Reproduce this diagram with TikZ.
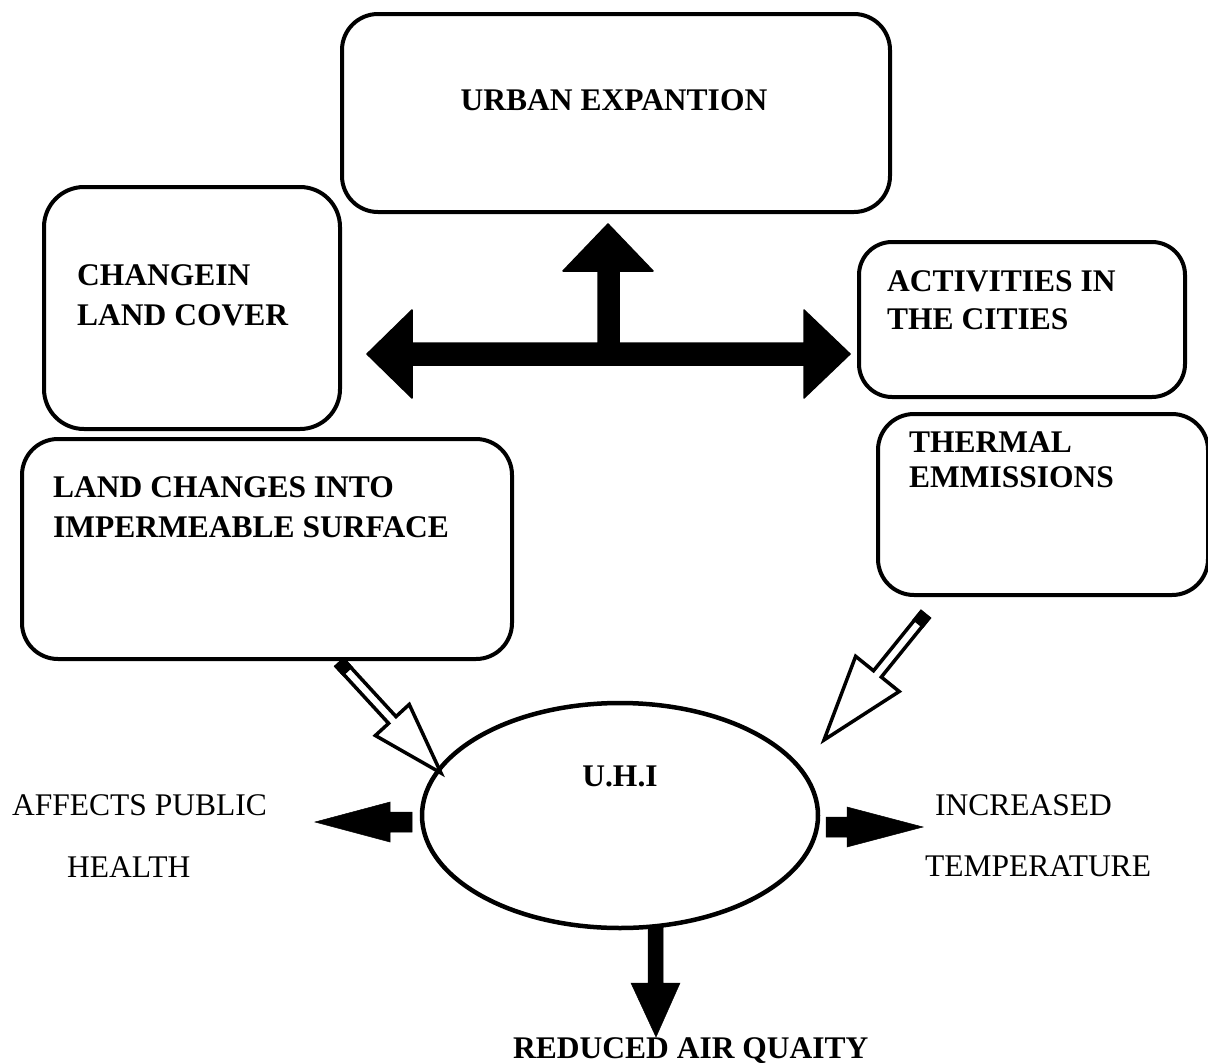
\documentclass[tikz,border=0pt]{standalone}
\usepackage{fontspec}
\setmainfont{Liberation Serif}
\usetikzlibrary{calc,shapes.geometric}
\begin{document}
\begin{tikzpicture}[x=1pt,y=-1pt,
  box/.style={draw, line width=4pt, rounded corners=36pt, inner sep=0pt, anchor=north west},
  btxt/.style={anchor=base west, inner sep=0pt, font=\fontsize{31.5}{40}\selectfont\bfseries},
  rtxt/.style={anchor=base west, inner sep=0pt, font=\fontsize{31.5}{40}\selectfont},
  blockarrow/.style={fill=black, draw=black, line width=1.5pt, line join=round},
  hollowarrow/.style={draw=black, fill=white, line width=3.5pt, line join=miter},
  tailfill/.style={draw=black, fill=black, line width=3.5pt}]
\fill[white] (0,0) rectangle (1208,1063);
\useasboundingbox (0,0) rectangle (1208,1063);

% boxes
\node[box, minimum width=548pt, minimum height=198pt] (urban) at (340,12) {};
\node[box, minimum width=296pt, minimum height=242pt, rounded corners=40pt] (cover) at (42,185) {};
\node[box, minimum width=326pt, minimum height=155pt, rounded corners=33pt] (act) at (857,240) {};
\node[box, minimum width=330pt, minimum height=181pt] (therm) at (876,412) {};
\node[box, minimum width=490pt, minimum height=220pt] (land) at (20,437) {};
\node[draw, line width=4.5pt, ellipse, minimum width=396pt, minimum height=225pt, inner sep=0pt] (uhi) at (620,815.5) {};

% box texts
\node[btxt, anchor=base] (turban) at (614,110) {URBAN EXPANTION};
\node[btxt] (tcover1) at (77,285) {CHANGEIN};
\node[btxt] (tcover2) at (77,325) {LAND COVER};
\node[btxt] (tact1) at (887,291) {ACTIVITIES IN};
\node[btxt] (tact2) at (887,329) {THE CITIES};
\node[btxt] (ttherm1) at (909,452) {THERMAL};
\node[btxt] (ttherm2) at (909,487) {EMMISSIONS};
\node[btxt] (tland1) at (53,497) {LAND CHANGES INTO};
\node[btxt] (tland2) at (53,537) {IMPERMEABLE SURFACE};
\node[btxt, anchor=base] (tuhi) at (620,786) {U.H.I};

% outcome texts
\node[rtxt] (health1) at (12,815) {AFFECTS PUBLIC};
\node[rtxt] (health2) at (67,877) {HEALTH};
\node[rtxt] (temp1) at (935,815) {INCREASED};
\node[rtxt] (temp2) at (925,876) {TEMPERATURE};
\node[btxt] (air) at (513,1058) {REDUCED AIR QUAITY};

% T-shaped block arrow
\coordinate (tl) at (367,354);
\coordinate (tr) at (850,354);
\coordinate (tu) at (608,224);
\filldraw[blockarrow] (tl) -- (412,310) -- (412,343) -- (598,343) -- (598,271) -- (563,271)
  -- (tu) -- (653,271) -- (619,271) -- (619,343) -- (804,343) -- (804,310) -- (tr)
  -- (804,398) -- (804,365) -- (412,365) -- (412,398) -- cycle;

% hollow arrows into U.H.I
\coordinate (T1) at (340,663);
\coordinate (P1) at (441,773);
\coordinate (B1) at ($(P1)!72pt!(T1)$);
\coordinate (E1) at ($(T1)!10pt!(P1)$);
\filldraw[hollowarrow] ($(T1)!5pt!90:(P1)$) -- ($(B1)!5pt!90:(P1)$) -- ($(B1)!23pt!90:(P1)$)
  -- (P1) -- ($(B1)!23pt!-90:(P1)$) -- ($(B1)!5pt!-90:(P1)$) -- ($(T1)!5pt!-90:(P1)$) -- cycle;
\filldraw[tailfill] ($(T1)!5pt!90:(P1)$) -- ($(E1)!5pt!90:(P1)$) -- ($(E1)!5pt!-90:(P1)$) -- ($(T1)!5pt!-90:(P1)$) -- cycle;

\coordinate (T2) at (925,615);
\coordinate (P2) at (824,740);
\coordinate (B2) at ($(P2)!85pt!(T2)$);
\coordinate (E2) at ($(T2)!10pt!(P2)$);
\filldraw[hollowarrow] ($(T2)!5pt!90:(P2)$) -- ($(B2)!5pt!90:(P2)$) -- ($(B2)!28pt!90:(P2)$)
  -- (P2) -- ($(B2)!28pt!-90:(P2)$) -- ($(B2)!5pt!-90:(P2)$) -- ($(T2)!5pt!-90:(P2)$) -- cycle;
\filldraw[tailfill] ($(T2)!5pt!90:(P2)$) -- ($(E2)!5pt!90:(P2)$) -- ($(E2)!5pt!-90:(P2)$) -- ($(T2)!5pt!-90:(P2)$) -- cycle;

% small block arrows out of U.H.I
\filldraw[blockarrow, line join=miter, line width=0.5pt] (315,822) -- (390,802) -- (390,812) -- (412,812) -- (412,832) -- (390,832) -- (390,842) -- cycle;
\filldraw[blockarrow, line join=miter, line width=0.5pt] (826,817) -- (847,817) -- (847,807) -- (923,827) -- (847,847) -- (847,837) -- (826,837) -- cycle;
\filldraw[blockarrow, line join=miter, line width=0.5pt] (648,926) -- (663,926) -- (663,983) -- (680,983) -- (656,1037) -- (631,983) -- (648,983) -- cycle;
\end{tikzpicture}
\end{document}
